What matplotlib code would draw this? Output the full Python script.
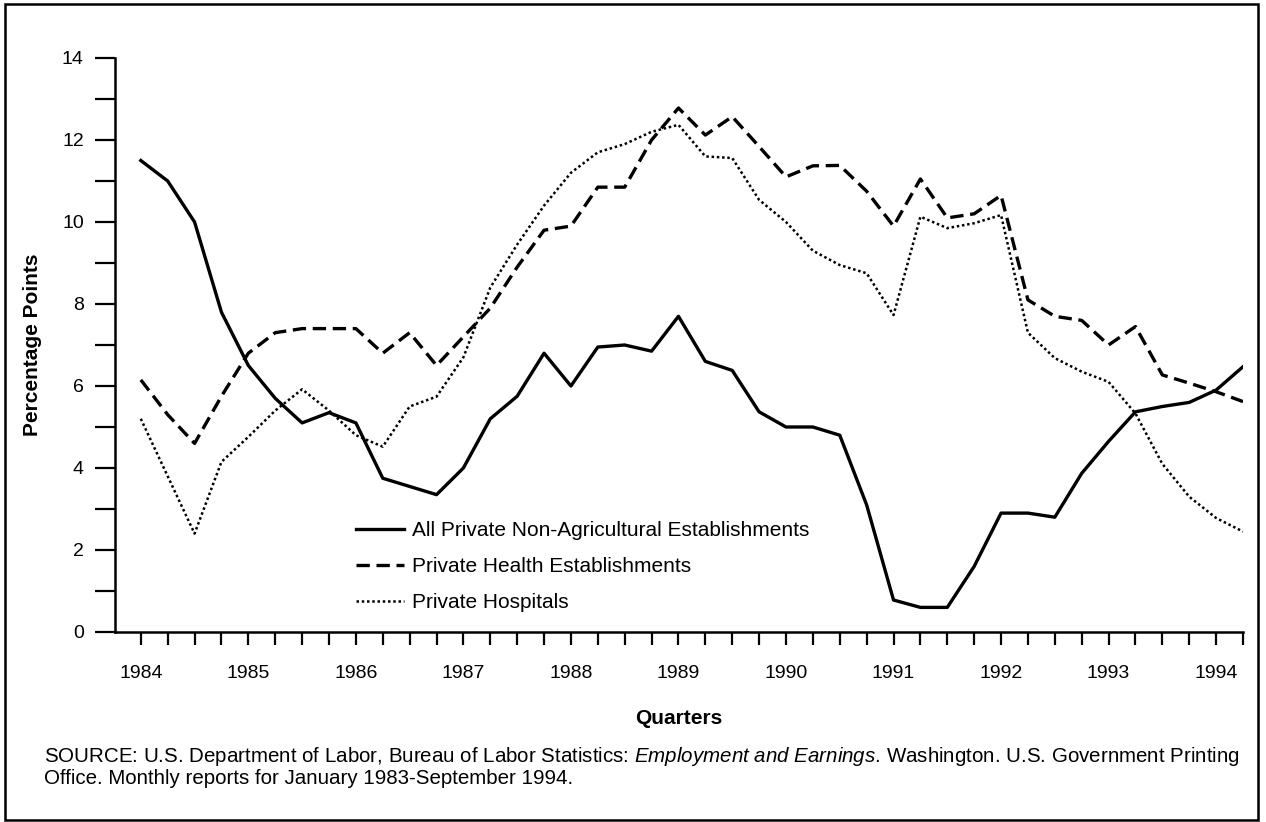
import matplotlib
matplotlib.use('Agg')
import matplotlib.pyplot as plt
from matplotlib.patches import Rectangle
from matplotlib.ticker import MultipleLocator

plt.rcParams['font.family'] = ['Liberation Sans', 'DejaVu Sans']
plt.rcParams['mathtext.fontset'] = 'custom'
plt.rcParams['mathtext.rm'] = 'Liberation Sans'
plt.rcParams['mathtext.it'] = 'Liberation Sans:italic'

# quarterly values, 1984 Q1 .. 1994 Q2
quarters = [1984 + i / 4 for i in range(42)]

all_private = [11.5, 11.0, 10.0, 7.8, 6.5, 5.7, 5.1, 5.35, 5.1, 3.75, 3.55, 3.35,
               4.0, 5.2, 5.75, 6.8, 6.0, 6.95, 7.0, 6.85, 7.7, 6.6, 6.38, 5.37,
               5.0, 5.0, 4.8, 3.1, 0.78, 0.6, 0.6, 1.6, 2.9, 2.9, 2.8, 3.87,
               4.65, 5.37, 5.5, 5.6, 5.9, 6.47]

health = [6.15, 5.3, 4.6, 5.75, 6.8, 7.3, 7.4, 7.4, 7.4, 6.8, 7.3, 6.5,
          7.2, 7.9, 8.9, 9.8, 9.9, 10.85, 10.85, 12.0, 12.78, 12.12, 12.57, 11.84,
          11.1, 11.37, 11.38, 10.75, 9.9, 11.05, 10.1, 10.2, 10.65, 8.1, 7.7, 7.6,
          7.0, 7.45, 6.27, 6.07, 5.86, 5.62]

hospitals = [5.2, 3.8, 2.4, 4.15, 4.76, 5.4, 5.92, 5.4, 4.8, 4.52, 5.5, 5.74,
             6.7, 8.4, 9.45, 10.4, 11.2, 11.7, 11.9, 12.2, 12.37, 11.6, 11.56, 10.54,
             10.0, 9.3, 8.95, 8.75, 7.73, 10.13, 9.85, 9.97, 10.17, 7.3, 6.68, 6.35,
             6.1, 5.33, 4.1, 3.3, 2.78, 2.45]

year_ticks = list(range(1984, 1995))

fig = plt.figure(figsize=(12.66, 8.22), dpi=100)
ax = fig.add_axes([115 / 1266, 1 - 632 / 822, (1243 - 115) / 1266, (632 - 58) / 822])

ax.plot(quarters, all_private, color='black', lw=2.4, ls='-',
        label='All Private Non-Agricultural Establishments')
ax.plot(quarters, health, color='black', lw=2.4, ls=(0, (4, 2)),
        label='Private Health Establishments')
ax.plot(quarters, hospitals, color='black', lw=1.8, ls=(0, (1, 1.1)),
        label='Private Hospitals')

ax.set_xlim(1983.76, 1994.25)
ax.set_ylim(0, 14)
ax.set_xticks(year_ticks)
ax.xaxis.set_minor_locator(MultipleLocator(0.25))
ax.yaxis.set_major_locator(MultipleLocator(2))
ax.yaxis.set_minor_locator(MultipleLocator(1))

for s in ['top', 'right']:
    ax.spines[s].set_visible(False)
for s in ['left', 'bottom']:
    ax.spines[s].set_linewidth(1.8)

ax.tick_params(axis='x', which='both', direction='out', length=9, width=1.6)
ax.tick_params(axis='x', which='major', pad=15, labelsize=14)
ax.tick_params(axis='y', which='both', direction='out', length=14.5, width=1.6)
ax.tick_params(axis='y', which='major', pad=8, labelsize=14)

ax.set_xlabel('Quarters', fontsize=15, fontweight='bold', labelpad=19)
ax.set_ylabel('Percentage Points', fontsize=15, fontweight='bold', labelpad=14)

ax.legend(loc='upper left', bbox_to_anchor=(356 / 1266, 1 - 521 / 822),
          bbox_transform=fig.transFigure, frameon=False, fontsize=15,
          handlelength=2.3, handletextpad=0.4, labelspacing=0.82,
          borderpad=0, borderaxespad=0)

src1 = (r'SOURCE: U.S. Department of Labor, Bureau of Labor Statistics: '
        r'$\mathit{Employment\ and\ Earnings}$. Washington. U.S. Government Printing')
src2 = 'Office. Monthly reports for January 1983-September 1994.'
fig.text(44 / 1266, 1 - 756 / 822, src1, fontsize=14.8, va='center', ha='left')
fig.text(44 / 1266, 1 - 778 / 822, src2, fontsize=14.8, va='center', ha='left')

fig.patches.append(Rectangle((5 / 1266, 1 - 820 / 822), (1258 - 5) / 1266, (820 - 4) / 822,
                             transform=fig.transFigure, fill=False, lw=1.8,
                             edgecolor='black'))

plt.savefig('out.png', dpi=100)
plt.close()
